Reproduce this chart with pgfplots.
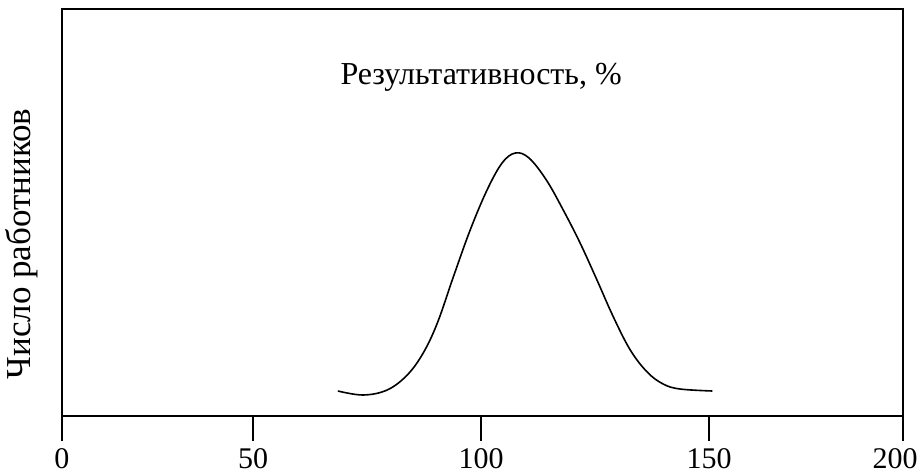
\documentclass[border=0pt]{standalone}
\usepackage{fontspec}
\setmainfont{Liberation Serif}
\usepackage{pgfplots}
\pgfplotsset{compat=1.18}

\begin{document}
\begin{tikzpicture}[x=1pt,y=1pt]
\begin{axis}[
  scale only axis,
  width=420.5pt, height=203.5pt,
  xmin=8.1, xmax=192.5,
  ymin=0, ymax=407,
  axis line style={line width=1pt},
  xtick={8.1,50,100,150,192.5},
  xticklabels={0,50,100,150,{\hspace*{-8pt}200}},
  ytick=\empty,
  tick align=outside,
  xtick pos=bottom,
  major tick length=12.5pt,
  tick style={line width=1pt, black},
  tick label style={font=\fontsize{15}{17}\selectfont},
  /pgf/number format/assume math mode=true,
  clip=false,
]
\addplot[line width=0.8pt, smooth, tension=0.6] coordinates {
(68.6,25) (74.1,21) (79.4,26) (83.8,41) (87.3,63) (90.4,93)
(93.9,139) (97.6,186) (101.3,226) (104.6,253) (107.5,263)
(110.5,258) (114.3,236) (118.0,206) (121.7,173) (125.4,136)
(129.0,99) (132.7,66) (136.4,44) (139.9,32) (143.6,27) (150.7,25)
};
\node[font=\fontsize{16}{18}\selectfont] at (axis cs:100,339) {Результативность, \%};
\end{axis}
\node[rotate=90, font=\fontsize{17.5}{20}\selectfont] at ([shift={(-20pt,86pt)}]current axis.south west) {Число работников};
\pgfresetboundingbox
\path ([shift={(-31pt,-28pt)}]current axis.south west) rectangle ([shift={(9.5pt,4.5pt)}]current axis.north east);
\end{tikzpicture}
\end{document}
